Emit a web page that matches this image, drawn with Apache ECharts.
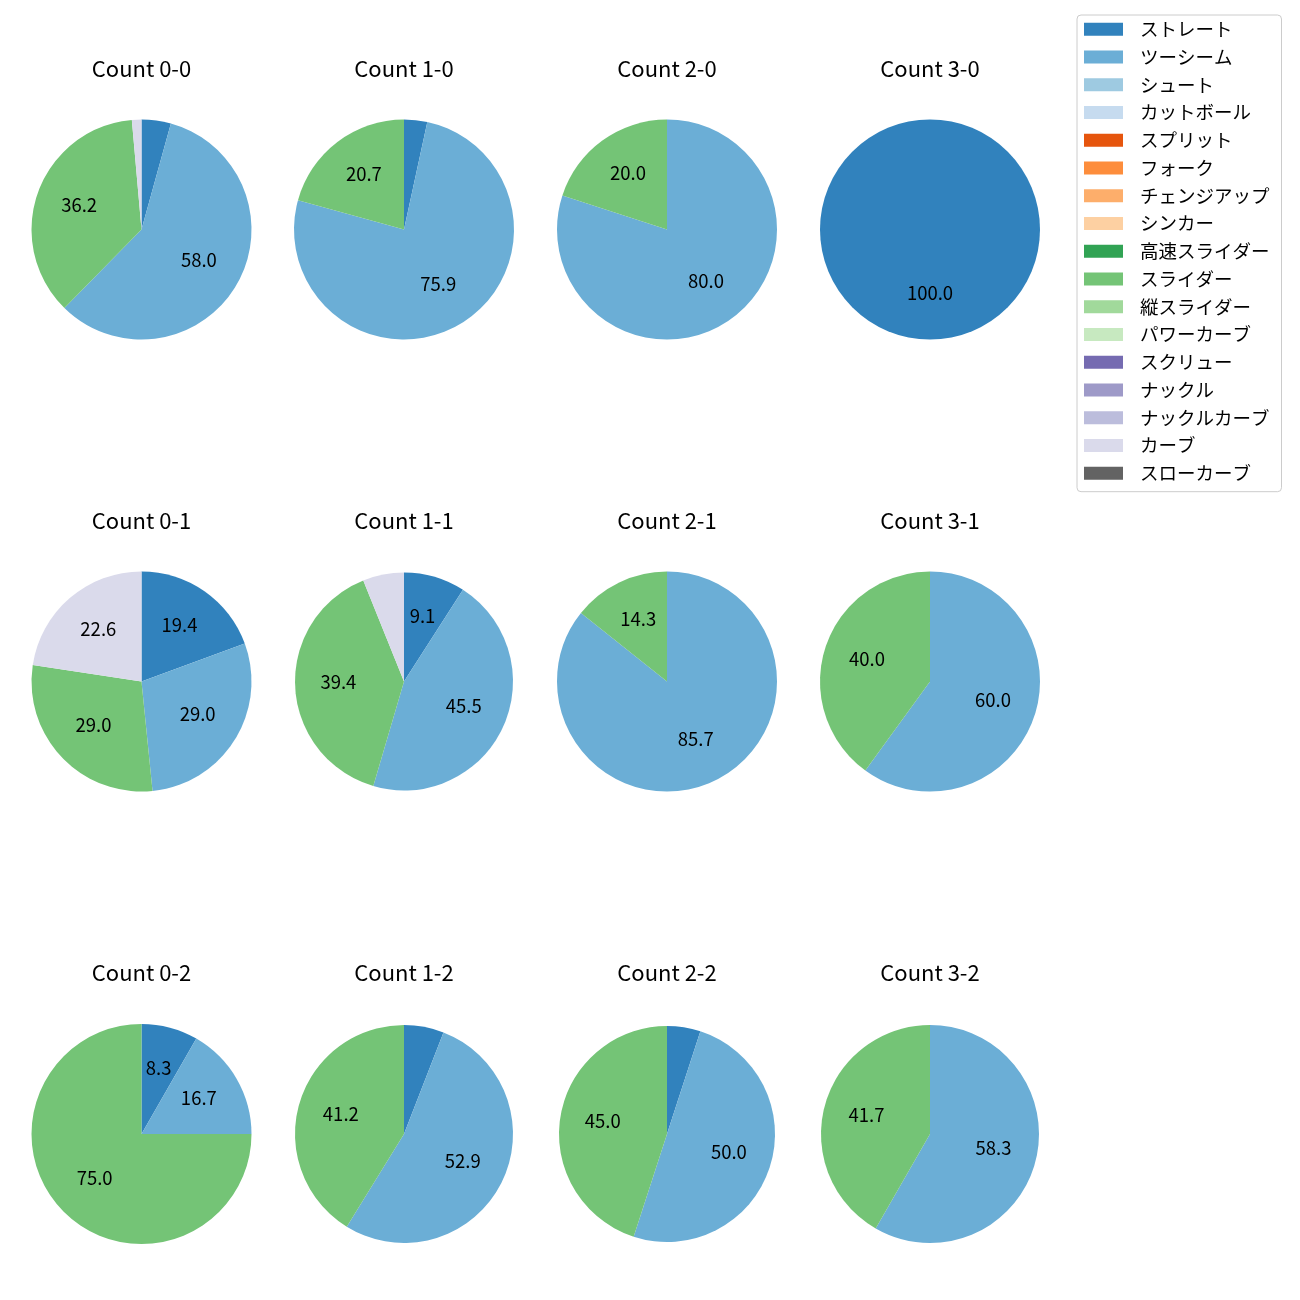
<!DOCTYPE html>
<html>
<head>
<meta charset="utf-8">
<script src="https://cdn.jsdelivr.net/npm/echarts@6/dist/echarts.min.js"></script>
<style>
html,body{margin:0;padding:0;background:#fff;}
#chart{width:1300px;height:1300px;}
</style>
</head>
<body>
<div id="chart"></div>
<script>
// ---- data ----
const pitchNames = ['ストレート','ツーシーム','シュート','カットボール','スプリット','フォーク','チェンジアップ','シンカー','高速スライダー','スライダー','縦スライダー','パワーカーブ','スクリュー','ナックル','ナックルカーブ','カーブ','スローカーブ'];
const countTitles = ['Count 0-0','Count 1-0','Count 2-0','Count 3-0','Count 0-1','Count 1-1','Count 2-1','Count 3-1','Count 0-2','Count 1-2','Count 2-2','Count 3-2'];
// percentages per count (order of countTitles)
const straight = [4.3, 3.4, 0, 100.0, 19.4, 9.1, 0, 0, 8.3, 5.9, 5.0, 0];
const twoSeam  = [58.0, 75.9, 80.0, 0, 29.0, 45.5, 85.7, 60.0, 16.7, 52.9, 50.0, 58.3];
const slider   = [36.2, 20.7, 20.0, 0, 29.0, 39.4, 14.3, 40.0, 75.0, 41.2, 45.0, 41.7];
const curve    = [1.4, 0, 0, 0, 22.6, 6.1, 0, 0, 0, 0, 0, 0];

// ---- styles ----
const pitchColors = ['#3182bd','#6baed6','#9ecae1','#c6dbef','#e6550d','#fd8d3c','#fdae6b','#fdd0a2','#31a354','#74c476','#a1d99b','#c7e9c0','#756bb1','#9e9ac8','#bcbddc','#dadaeb','#636363'];
const FONT = '"Noto Sans CJK JP", "Noto Sans", sans-serif';
const colX = [141.5, 404, 667, 930];
const rowY = [229.5, 681.5, 1134];
const radii = [110,110,110,110, 110,109,110,110, 110,109,108,109];
const labelThreshold = 7;
const labelRadiusFactor = 1.15;

function valuesFor(i) {
  const v = new Array(pitchNames.length).fill(0);
  v[pitchNames.indexOf('ストレート')] = straight[i];
  v[pitchNames.indexOf('ツーシーム')] = twoSeam[i];
  v[pitchNames.indexOf('スライダー')] = slider[i];
  v[pitchNames.indexOf('カーブ')] = curve[i];
  return v;
}

const titles = [];
const pieSeries = [];
const labelSeries = [];
countTitles.forEach((t, i) => {
  const cx = colX[i % 4], cy = rowY[Math.floor(i / 4)], r = radii[i];
  const vals = valuesFor(i);
  titles.push({
    text: t, left: cx, top: cy - 172, textAlign: 'center', padding: 0,
    textStyle: {fontFamily: FONT, fontSize: 22, fontWeight: 'normal', color: '#000'}
  });
  pieSeries.push({
    type: 'pie', name: t, center: [cx, cy], radius: [0, r],
    startAngle: 90, clockwise: true, silent: true, animation: false,
    label: {show: false}, labelLine: {show: false},
    itemStyle: {borderWidth: 0},
    data: pitchNames.map((n, k) => ({name: n, value: vals[k], itemStyle: {color: pitchColors[k]}}))
  });
  labelSeries.push({
    type: 'pie', name: t + ' labels', center: [cx, cy], radius: [0, r * labelRadiusFactor],
    startAngle: 90, clockwise: true, silent: true, animation: false,
    itemStyle: {color: 'rgba(0,0,0,0)', borderWidth: 0},
    labelLine: {show: false},
    label: {
      show: true, position: 'inside', fontFamily: FONT, fontSize: 18.5, color: '#000',
      offset: [0, -2.5],
      formatter: p => (p.value >= labelThreshold ? p.value.toFixed(1) : '')
    },
    data: pitchNames.map((n, k) => ({name: n, value: vals[k]}))
  });
});

const chart = echarts.init(document.getElementById('chart'), null, {renderer: 'canvas'});
chart.setOption({
  backgroundColor: '#fff',
  animation: false,
  title: titles,
  legend: {
    data: pitchNames, orient: 'vertical', left: 1077, top: 15,
    icon: 'rect', itemWidth: 39, itemHeight: 13, itemGap: 7.75,
    selectedMode: false,
    padding: [4.2, 12, 8.5, 7],
    borderColor: '#cccccc', borderWidth: 1, borderRadius: 4,
    textStyle: {fontFamily: FONT, fontSize: 18.5, color: '#000', lineHeight: 20, padding: [0, 0, 0, 12]}
  },
  series: pieSeries.concat(labelSeries)
});
</script>
</body>
</html>
